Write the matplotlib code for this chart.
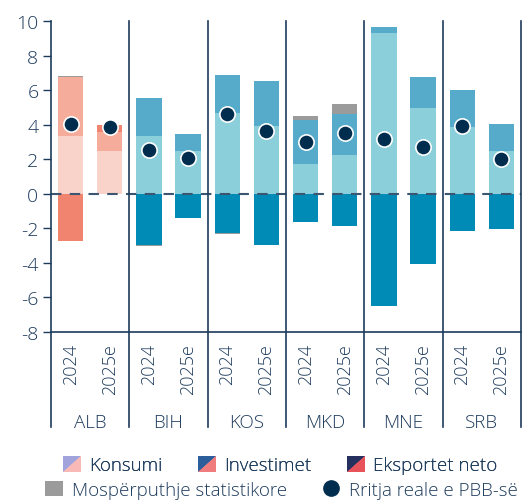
import matplotlib
matplotlib.use("Agg")
import matplotlib.pyplot as plt
import numpy as np
from matplotlib.legend_handler import HandlerBase
from matplotlib.patches import Polygon, Rectangle
from matplotlib.lines import Line2D

plt.rcParams['font.family'] = ['Open Sans', 'DejaVu Sans']
plt.rcParams['font.weight'] = 'light'

countries = ["ALB", "BIH", "KOS", "MKD", "MNE", "SRB"]
years = ["2024", "2025e"]
tick_labels = years * len(countries)

konsumi    = [3.36, 2.49, 3.36, 2.49, 4.70, 3.90, 1.74, 2.26, 9.30, 4.99, 3.89, 2.49]
investimet = [3.38, 1.11, 2.21, 0.99, 2.20, 2.60, 2.55, 2.34, 0.33, 1.74, 2.14, 1.57]
eksportet  = [-2.71, 0.40, -2.98, -1.39, -2.28, -2.96, -1.61, -1.84, -6.48, -4.06, -2.13, -2.01]
mosperp    = [0.05, 0.00, -0.06, 0.00, -0.05, 0.00, 0.23, 0.62, 0.00, 0.00, 0.00, 0.00]
gdp        = [4.04, 3.89, 2.55, 2.09, 4.60, 3.61, 3.00, 3.50, 3.17, 2.71, 3.94, 2.01]

TXT = "#1D3B5C"
alb_cols = {"k": "#F9D2CA", "i": "#F5AC9A", "e": "#F0846E"}
oth_cols = {"k": "#8BCFDA", "i": "#56AACA", "e": "#008BB6"}
GRAY = "#9B9B9B"
DOT = "#002D4E"

fig = plt.figure(figsize=(5.31, 5.02), dpi=100)
ax = fig.add_axes([51/531, 1-333/502, 470/531, 311/502])

x = np.arange(len(konsumi))
w = 0.65
for i in range(len(x)):
    cols = alb_cols if i < 2 else oth_cols
    pos = 0.0
    neg = 0.0
    for val, key in [(konsumi[i], "k"), (investimet[i], "i"), (eksportet[i], "e"), (mosperp[i], "g")]:
        c = GRAY if key == "g" else cols[key]
        if val >= 0:
            ax.bar(x[i], val, w, bottom=pos, color=c, linewidth=0, zorder=2)
            pos += val
        else:
            ax.bar(x[i], val, w, bottom=neg, color=c, linewidth=0, zorder=2)
            neg += val

ax.axhline(0, color="#3C5570", lw=1.5, ls=(0, (5, 4)), zorder=3)
ax.plot(x, gdp, 'o', ms=11, color=DOT, mec="white", mew=1.2, zorder=4, ls='none')

ax.set_xlim(-0.5, len(x) - 0.5)
ax.set_ylim(-8, 10)
ax.set_yticks(np.arange(-8, 11, 2))
ax.set_yticklabels([str(v) for v in range(-8, 11, 2)])
ax.set_xticks(x)
ax.set_xticklabels(tick_labels, rotation=90, fontsize=13, color=TXT, va="top")
ax.tick_params(axis="x", length=0, pad=8)
ax.tick_params(axis="y", length=6, width=1, color=TXT, labelsize=14, labelcolor=TXT, pad=3, direction="out")
for s in ["top", "right", "left"]:
    ax.spines[s].set_visible(False)
ax.spines["bottom"].set_color(TXT)
ax.spines["bottom"].set_linewidth(1.2)

trans = ax.get_xaxis_transform()
for b in np.arange(-0.5, len(x), 2):
    ax.plot([b, b], [1, -0.305], color=TXT, lw=1.2, transform=trans, clip_on=False, zorder=5)
for gi, c in enumerate(countries):
    ax.text(2 * gi + 0.5, -0.289, c, transform=trans, ha="center", va="center",
            fontsize=13.5, color=TXT)


class SplitHandler(HandlerBase):
    def __init__(self, c1, c2):
        super().__init__()
        self.c1, self.c2 = c1, c2

    def create_artists(self, legend, orig_handle, xdescent, ydescent, width, height, fontsize, trans):
        x0, y0 = -xdescent, -ydescent
        p1 = Polygon([(x0, y0), (x0, y0 + height), (x0 + width, y0 + height)], closed=True,
                     facecolor=self.c1, edgecolor="none", transform=trans)
        p2 = Polygon([(x0, y0), (x0 + width, y0), (x0 + width, y0 + height)], closed=True,
                     facecolor=self.c2, edgecolor="none", transform=trans)
        return [p1, p2]


h1, h2, h3 = Rectangle((0, 0), 1, 1), Rectangle((0, 0), 1, 1), Rectangle((0, 0), 1, 1)
leg1 = fig.legend([h1, h2, h3], ["Konsumi", "Investimet", "Eksportet neto"],
                  handler_map={h1: SplitHandler("#A1A4DC", "#F8B9B7"),
                               h2: SplitHandler("#2B5E9A", "#F07C7E"),
                               h3: SplitHandler("#25305E", "#E8525B")},
                  ncol=3, loc="center", bbox_to_anchor=(0.528, 0.071), frameon=False,
                  prop={"size": 13.5, "weight": "light"}, handlelength=0.95, handleheight=0.9,
                  handletextpad=0.45, columnspacing=1.9, labelcolor=TXT, borderpad=0, borderaxespad=0)
fig.add_artist(leg1)
g = Rectangle((0, 0), 1, 1, facecolor=GRAY, edgecolor="none")
d = Line2D([], [], marker="o", ls="none", color=DOT, ms=11)
leg2 = fig.legend([g, d], ["Mospërputhje statistikore", "Rritja reale e PBB-së"],
                  ncol=2, loc="center", bbox_to_anchor=(0.53, 0.022), frameon=False,
                  prop={"size": 13.5, "weight": "light"}, handlelength=0.95, handleheight=0.9,
                  handletextpad=0.45, columnspacing=1.9, labelcolor=TXT, borderpad=0, borderaxespad=0)

fig.savefig("out.png", dpi=100)
